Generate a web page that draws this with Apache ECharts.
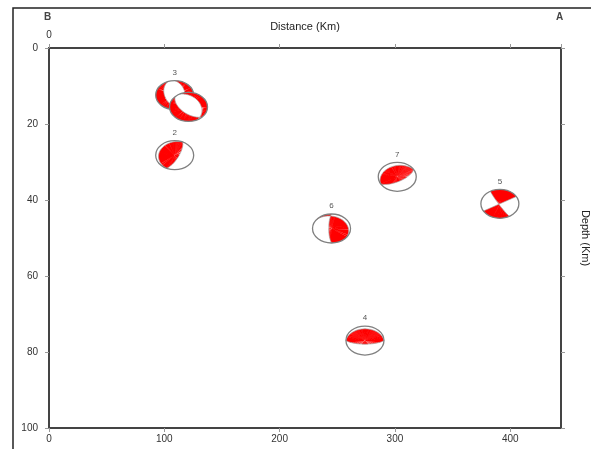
<!DOCTYPE html>
<html>
<head>
<meta charset="utf-8">
<script src="https://cdn.jsdelivr.net/npm/echarts@6/dist/echarts.min.js"></script>
<style>
  html, body { margin: 0; padding: 0; background: #fff; }
  #container { width: 591px; height: 449px; }
</style>
</head>
<body>
<div id="container"></div>
<script>
// events along the B-A profile
const eventLabels = ['3', '', '2', '7', '5', '6', '4'];
const distance = [109, 121, 109, 302, 391, 245, 274];
const depth = [12.4, 15.5, 28.2, 33.9, 41, 47.5, 77];
// focal mechanisms (strike, dip, rake)
const strike = [0, 135, 25, 60, 150, 180, 270];
const dip = [45, 55, 72, 64, 85, 78, 20];
const rake = [-75, -100, 90, 90, 0, 105, 90];

const FONT = 'Liberation Sans, Arial, sans-serif';
const D2R = Math.PI / 180;
const BALL_RX = 19, BALL_RY = 14.5;

function dot(a, b) { return a[0] * b[0] + a[1] * b[1] + a[2] * b[2]; }
function cross(a, b) {
    return [a[1] * b[2] - a[2] * b[1], a[2] * b[0] - a[0] * b[2], a[0] * b[1] - a[1] * b[0]];
}
function norm(a) {
    const l = Math.sqrt(dot(a, a)) || 1;
    return [a[0] / l, a[1] / l, a[2] / l];
}

// fault normal and slip vector (north, east, down)
function faultVectors(s, d, r) {
    s *= D2R; d *= D2R; r *= D2R;
    const n = [-Math.sin(d) * Math.sin(s), Math.sin(d) * Math.cos(s), -Math.cos(d)];
    const u = [
        Math.cos(r) * Math.cos(s) + Math.sin(r) * Math.cos(d) * Math.sin(s),
        Math.cos(r) * Math.sin(s) - Math.sin(r) * Math.cos(d) * Math.cos(s),
        -Math.sin(r) * Math.sin(d)
    ];
    return [n, u];
}

// >0 compression, point given in the unit disc (east, north)
function polarity(n, u, e, nn) {
    const r = Math.sqrt(e * e + nn * nn);
    const inc = 2 * Math.asin(Math.min(1, r / Math.SQRT2));
    const az = Math.atan2(e, nn);
    const x = [Math.sin(inc) * Math.cos(az), Math.sin(inc) * Math.sin(az), Math.cos(inc)];
    return dot(n, x) * dot(u, x);
}

function redPath(cx, cy, n, u) {
    const NA = 240, NR = 40;
    const pt = (r, a) => (cx + r * BALL_RX * Math.sin(a)).toFixed(2) + ' ' + (cy - r * BALL_RY * Math.cos(a)).toFixed(2);
    let p = '';
    for (let k = 0; k < NA; k++) {
        const a0 = k / NA * 2 * Math.PI, a1 = (k + 1) / NA * 2 * Math.PI, am = (a0 + a1) / 2;
        const se = Math.sin(am), cn = Math.cos(am);
        const seg = (r0, r1) => 'M' + pt(r0, a0) + 'L' + pt(r1, a0) + 'L' + pt(r1, a1) + 'L' + pt(r0, a1) + 'Z';
        let inRed = polarity(n, u, 0, 0) > 0;
        let start = inRed ? 0 : null;
        for (let j = 1; j <= NR; j++) {
            const r = j / NR;
            const cur = polarity(n, u, r * se, r * cn) > 0;
            if (cur !== inRed) {
                let lo = (j - 1) / NR, hi = r;
                for (let b = 0; b < 12; b++) {
                    const mid = (lo + hi) / 2;
                    if ((polarity(n, u, mid * se, mid * cn) > 0) === inRed) lo = mid; else hi = mid;
                }
                const edge = (lo + hi) / 2;
                if (cur) start = edge; else { p += seg(start, edge); start = null; }
                inRed = cur;
            }
        }
        if (inRed) p += seg(start, 1);
    }
    return p;
}

// nodal plane trace, plane given by its normal
function trace(cx, cy, m) {
    let h = [m[1], -m[0], 0];
    if (Math.abs(h[0]) + Math.abs(h[1]) < 1e-6) h = [1, 0, 0];
    h = norm(h);
    let w = norm(cross(m, h));
    if (w[2] < 0) w = [-w[0], -w[1], -w[2]];
    const pts = [];
    for (let i = 0; i <= 60; i++) {
        const t = i / 60 * Math.PI;
        const x = [Math.cos(t) * h[0] + Math.sin(t) * w[0], Math.cos(t) * h[1] + Math.sin(t) * w[1], Math.cos(t) * h[2] + Math.sin(t) * w[2]];
        const inc = Math.acos(Math.max(-1, Math.min(1, x[2])));
        const az = Math.atan2(x[1], x[0]);
        const r = Math.SQRT2 * Math.sin(inc / 2);
        pts.push([cx + r * BALL_RX * Math.sin(az), cy - r * BALL_RY * Math.cos(az)]);
    }
    return pts;
}

const seriesData = distance.map((d, i) => [d, depth[i], i]);

function renderBall(params, api) {
    const i = api.value(2);
    const c = api.coord([api.value(0), api.value(1)]);
    const [n, u] = faultVectors(strike[i], dip[i], rake[i]);
    const line = { stroke: '#a0a0a0', lineWidth: 0.7, fill: null };
    return {
        type: 'group',
        children: [
            { type: 'ellipse', shape: { cx: c[0], cy: c[1], rx: BALL_RX, ry: BALL_RY }, style: { fill: '#fff' } },
            { type: 'path', shape: { pathData: redPath(c[0], c[1], n, u) }, style: { fill: '#ff0000' } },
            { type: 'polyline', shape: { points: trace(c[0], c[1], n) }, style: line },
            { type: 'polyline', shape: { points: trace(c[0], c[1], u) }, style: line },
            { type: 'ellipse', shape: { cx: c[0], cy: c[1], rx: BALL_RX, ry: BALL_RY }, style: { fill: null, stroke: '#808080', lineWidth: 1.3 } },
            {
                type: 'text',
                style: {
                    text: eventLabels[i], x: c[0], y: c[1] - BALL_RY - 4,
                    align: 'center', verticalAlign: 'bottom',
                    fontSize: 8, fontFamily: FONT, fill: '#555'
                }
            }
        ]
    };
}

const axisLine = { show: true, onZero: false, lineStyle: { color: '#444', width: 2 } };
const axisTick = { show: true, inside: false, length: 4, lineStyle: { color: '#999', width: 1 } };

const myChart = echarts.init(document.getElementById('container'));
const option = {
    animation: false,
    backgroundColor: '#fff',
    grid: { left: 49, top: 48, right: 30, bottom: 21, containLabel: false, outerBoundsMode: 'none' },
    xAxis: [
        {
            type: 'value', position: 'bottom', min: 0, max: 444, interval: 100,
            axisLine: axisLine, axisTick: axisTick, splitLine: { show: false },
            axisLabel: { fontSize: 10, fontFamily: FONT, color: '#333', margin: 6, showMaxLabel: false }
        },
        {
            type: 'value', position: 'top', min: 0, max: 444, interval: 100,
            name: 'Distance (Km)', nameLocation: 'middle', nameGap: 16, nameMoveOverlap: false,
            nameTextStyle: { fontSize: 11, fontFamily: FONT, color: '#222' },
            axisLine: axisLine, axisTick: axisTick, splitLine: { show: false },
            axisLabel: { fontSize: 10, fontFamily: FONT, color: '#333', margin: 8, formatter: v => v === 0 ? '0' : '' }
        }
    ],
    yAxis: [
        {
            type: 'value', position: 'left', inverse: true, min: 0, max: 100, interval: 20,
            axisLine: axisLine, axisTick: axisTick, splitLine: { show: false },
            axisLabel: { fontSize: 10, fontFamily: FONT, color: '#333', margin: 11 }
        },
        {
            type: 'value', position: 'right', inverse: true, min: 0, max: 100, interval: 20,
            name: 'Depth (Km)', nameLocation: 'middle', nameGap: 19, nameRotate: -90, nameMoveOverlap: false,
            nameTextStyle: { fontSize: 11, fontFamily: FONT, color: '#222' },
            axisLine: axisLine, axisTick: axisTick, splitLine: { show: false },
            axisLabel: { show: false }
        }
    ],
    graphic: [
        { type: 'polyline', shape: { points: [[13, 449], [13, 8], [591, 8]] }, style: { stroke: '#222', lineWidth: 1.5, fill: null } },
        { type: 'text', left: 44, top: 12, style: { text: 'B', fontSize: 10, fontWeight: 'bold', fontFamily: FONT, fill: '#444' } },
        { type: 'text', left: 556, top: 12, style: { text: 'A', fontSize: 10, fontWeight: 'bold', fontFamily: FONT, fill: '#444' } }
    ],
    series: [
        {
            type: 'custom',
            xAxisIndex: 0,
            yAxisIndex: 0,
            renderItem: renderBall,
            clip: false,
            data: seriesData
        }
    ]
};
myChart.setOption(option);
window.addEventListener('resize', () => {
    myChart.resize();
});
</script>
</body>
</html>
